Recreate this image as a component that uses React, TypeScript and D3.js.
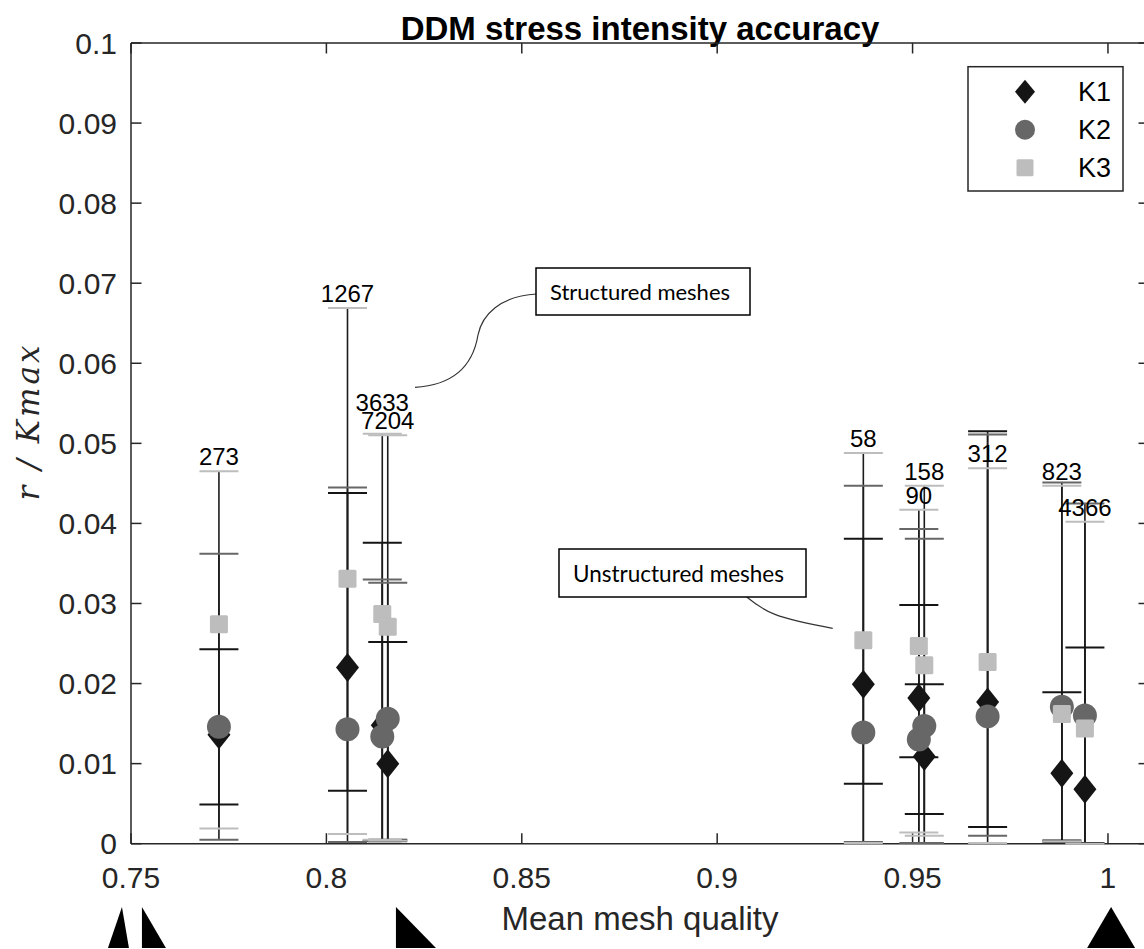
import React from 'react';
import * as d3 from 'd3';

// mesh groups: element count label and mean mesh quality
const groupLabels = ['273', '1267', '3633', '7204', '58', '90', '158', '312', '823', '4366'];
const groupQuality = [0.7725, 0.8054, 0.8143, 0.8157, 0.9374, 0.9516, 0.953, 0.9692, 0.9882, 0.9941];

// r/Kmax: mean, lower and upper error bar ends
const k1Mean = [0.0136, 0.022, 0.0148, 0.01, 0.0199, 0.0182, 0.0109, 0.0177, 0.0088, 0.0068];
const k1Low = [0.0049, 0.0066, 0.0004, 0.0005, 0.0075, 0.0108, 0.0037, 0.0021, 0.0004, 0.0001];
const k1High = [0.0243, 0.0438, 0.0376, 0.0252, 0.0381, 0.0298, 0.0199, 0.0515, 0.0189, 0.0245];

const k2Mean = [0.0146, 0.0143, 0.0134, 0.0156, 0.0139, 0.013, 0.0147, 0.0159, 0.0171, 0.016];
const k2Low = [0.0005, 0.0002, 0.0003, 0.0003, 0.0002, 0.0001, 0.0001, 0.001, 0.0002, 0.0];
const k2High = [0.0362, 0.0445, 0.033, 0.0326, 0.0447, 0.0393, 0.0381, 0.0511, 0.0451, 0.0425];

const k3Mean = [0.0274, 0.0331, 0.0287, 0.0271, 0.0254, 0.0247, 0.0223, 0.0227, 0.0162, 0.0144];
const k3Low = [0.0019, 0.0012, 0.0005, 0.0004, 0.0001, 0.0014, 0.001, 0.0001, 0.0003, 0.0];
const k3High = [0.0465, 0.0669, 0.0512, 0.051, 0.0488, 0.0417, 0.0447, 0.0469, 0.0447, 0.0402];

const yTicks = [0, 0.01, 0.02, 0.03, 0.04, 0.05, 0.06, 0.07, 0.08, 0.09, 0.1];
const yTickLabels = ['0', '0.01', '0.02', '0.03', '0.04', '0.05', '0.06', '0.07', '0.08', '0.09', '0.1'];
const xTicks = [0.75, 0.8, 0.85, 0.9, 0.95, 1];
const xTickLabels = ['0.75', '0.8', '0.85', '0.9', '0.95', '1'];

// element shape glyphs below the axis, placed at their quality
const shapeQuality = [0.7441, 0.7528, 0.8178, 1.0008];
const shapeKind = ['narrow', 'rightLeft', 'rightSlope', 'equilateral'];

const seriesNames = ['K1', 'K2', 'K3'];

const W = 1144;
const H = 949;
const AXIS = '#262626';
const C1 = '#151515';
const C2 = '#676767';
const C3 = '#bdbdbd';

const x = d3.scaleLinear().domain([0.75, 1.0105]).range([131, 1149]);
const y = d3.scaleLinear().domain([0, 0.1]).range([843.7, 43]);

const capHalf = 19.5;
const tickLen = 10.5;

const diamond = (cx: number, cy: number, hw: number, hh: number) =>
  `M${cx},${cy - hh}L${cx + hw},${cy}L${cx},${cy + hh}L${cx - hw},${cy}Z`;

const shapePoints: Record<string, number[][]> = {
  narrow: [[0, 0], [21, 0], [14, -41]],
  rightLeft: [[0, 0], [0, -41], [24, 0]],
  rightSlope: [[0, -41], [0, 0], [40, 0]],
  equilateral: [[-24, 0], [24, 0], [0, -41]],
};

const labelNudge: Record<string, number> = { '3633': -17 };

const App: React.FC = () => {
  const series = [
    { mean: k1Mean, low: k1Low, high: k1High, color: C1 },
    { mean: k2Mean, low: k2Low, high: k2High, color: C2 },
    { mean: k3Mean, low: k3Low, high: k3High, color: C3 },
  ];
  const x0 = x(0.75);
  const x1 = x(1.0105);
  const yTop = y(0.1);
  const yBot = y(0);

  return (
    <div style={{ position: 'absolute', left: 0, top: 0 }}>
      <svg width={W} height={H} style={{ display: 'block', background: '#fff' }} fontFamily="'Liberation Sans', Arial, sans-serif">
        {/* title */}
        <text x={640} y={40} textAnchor="middle" fontSize={33} fontWeight="bold" fill="#000">
          DDM stress intensity accuracy
        </text>

        {/* axes box and ticks */}
        <g stroke={AXIS} strokeWidth={1.5} fill="none">
          <line x1={x0} x2={x1} y1={yTop} y2={yTop} />
          <line x1={x0} x2={x1} y1={yBot} y2={yBot} />
          <line x1={x0} x2={x0} y1={yTop} y2={yBot} />
          <line x1={x1} x2={x1} y1={yTop} y2={yBot} />
          {yTicks.map(t => (
            <g key={'yt' + t}>
              <line x1={x0} x2={x0 + tickLen} y1={y(t)} y2={y(t)} />
              <line x1={x1} x2={x1 - tickLen} y1={y(t)} y2={y(t)} />
            </g>
          ))}
          {xTicks.map(t => (
            <g key={'xt' + t}>
              <line x1={x(t)} x2={x(t)} y1={yBot} y2={yBot - tickLen} />
              <line x1={x(t)} x2={x(t)} y1={yTop} y2={yTop + tickLen} />
            </g>
          ))}
        </g>
        {yTicks.map((t, i) => (
          <text key={'yl' + t} x={117} y={y(t) + 10.5} textAnchor="end" fontSize={30} fill={AXIS}>
            {yTickLabels[i]}
          </text>
        ))}
        {xTicks.map((t, i) => (
          <text key={'xl' + t} x={x(t)} y={888} textAnchor="middle" fontSize={30} fill={AXIS}>
            {xTickLabels[i]}
          </text>
        ))}

        {/* axis labels */}
        <text x={640} y={930} textAnchor="middle" fontSize={33} fill={AXIS}>
          Mean mesh quality
        </text>
        <text
          transform="translate(39,423) rotate(-90)"
          textAnchor="middle"
          fontSize={31}
          fontStyle="italic"
          fontFamily="'DejaVu Serif', 'Liberation Serif', serif"
          fill={AXIS}
          textLength={155}
          lengthAdjust="spacing"
        >
          r / Kmax
        </text>

        {/* error bars: stems */}
        {groupQuality.map((q, i) => (
          <g key={'stem' + i} stroke="#1c1c1c" strokeWidth={1.6}>
            {series.map((s, j) => (
              <line key={j} x1={x(q)} x2={x(q)} y1={y(s.low[i])} y2={y(s.high[i])} />
            ))}
          </g>
        ))}
        {/* error bars: caps */}
        {series.map((s, j) => (
          <g key={'caps' + j} stroke={s.color} strokeWidth={2}>
            {groupQuality.map((q, i) => (
              <g key={i}>
                <line x1={x(q) - capHalf} x2={x(q) + capHalf} y1={y(s.low[i])} y2={y(s.low[i])} />
                <line x1={x(q) - capHalf} x2={x(q) + capHalf} y1={y(s.high[i])} y2={y(s.high[i])} />
              </g>
            ))}
          </g>
        ))}

        {/* markers */}
        {groupQuality.map((q, i) => (
          <path key={'d' + i} d={diamond(x(q), y(k1Mean[i]), 11.5, 14.5)} fill={C1} />
        ))}
        {groupQuality.map((q, i) => (
          <circle key={'c' + i} cx={x(q)} cy={y(k2Mean[i])} r={12} fill={C2} />
        ))}
        {groupQuality.map((q, i) => (
          <rect key={'s' + i} x={x(q) - 9} y={y(k3Mean[i]) - 9} width={18} height={18} rx={1.5} fill={C3} />
        ))}

        {/* element count labels */}
        {groupQuality.map((q, i) => (
          <text
            key={'lab' + i}
            x={x(q)}
            y={y(k3High[i]) - 6 + (labelNudge[groupLabels[i]] || 0)}
            textAnchor="middle"
            fontSize={24}
            fill="#000"
          >
            {groupLabels[i]}
          </text>
        ))}

        {/* legend */}
        <g>
          <rect x={968} y={66.7} width={155} height={124.3} fill="#fff" stroke={AXIS} strokeWidth={1.5} />
          {seriesNames.map((name, i) => {
            const cy = 91.7 + i * 38;
            return (
              <g key={name}>
                {i === 0 && <path d={diamond(1025, cy, 10, 12)} fill={C1} />}
                {i === 1 && <circle cx={1025} cy={cy} r={10} fill={C2} />}
                {i === 2 && <rect x={1016.5} y={cy - 8.5} width={17} height={17} rx={1.5} fill={C3} />}
                <text x={1078} y={cy + 9.5} fontSize={27} fill="#000">
                  {name}
                </text>
              </g>
            );
          })}
        </g>

        {/* annotations */}
        <path
          d="M536.7,294 C500,296 482,315 478,335 C473,365 455,385 415,387.3"
          fill="none"
          stroke="#333"
          strokeWidth={1.2}
        />
        <rect x={536} y={268} width={214} height={47} fill="#fff" stroke="#000" strokeWidth={1.5} />
        <text x={550} y={300} fontSize={22} fontFamily="Lato, 'Open Sans', sans-serif" fill="#000">
          Structured meshes
        </text>
        <path d="M746.7,597 C765,612 775,618 832.7,628.3" fill="none" stroke="#333" strokeWidth={1.2} />
        <rect x={559} y={549} width={247} height={48} fill="#fff" stroke="#000" strokeWidth={1.5} />
        <text x={573} y={582} fontSize={22.5} fontFamily="Lato, 'Open Sans', sans-serif" fill="#000">
          Unstructured meshes
        </text>

        {/* element shape glyphs */}
        {shapeQuality.map((q, i) => {
          const pts = shapePoints[shapeKind[i]].map(p => [x(q) + p[0], 948 + p[1]] as [number, number]);
          return <path key={'tri' + i} d={d3.line()(pts) + 'Z'} fill="#000" />;
        })}
      </svg>
    </div>
  );
};

export default App;
